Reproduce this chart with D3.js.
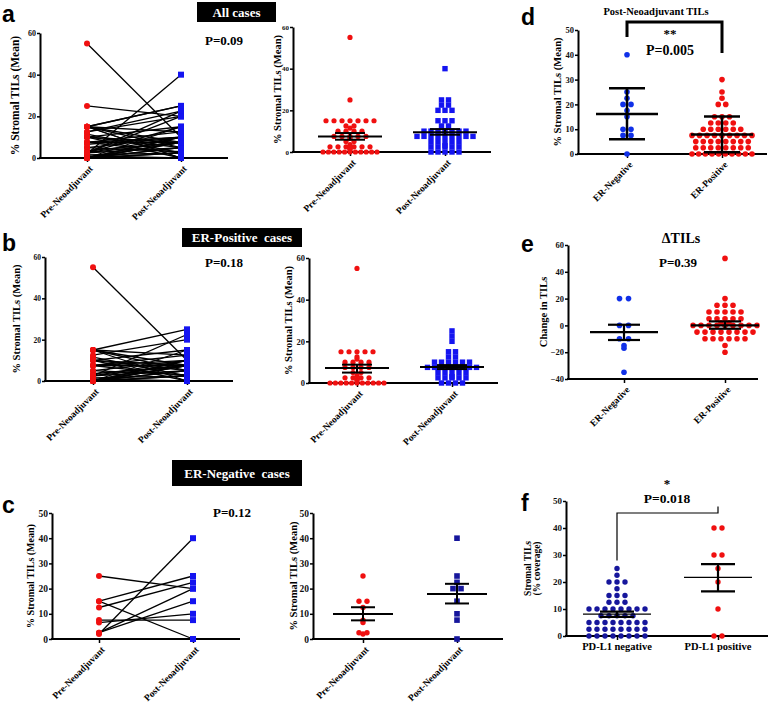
<!DOCTYPE html>
<html>
<head>
<meta charset="utf-8">
<script src="https://d3js.org/d3.v7.min.js"></script>
<style>
  body { margin: 0; background: #fff; }
  svg text { font-family: "Liberation Serif", "Times New Roman", serif; font-weight: bold; }
  .letter { font-family: "Liberation Sans", Arial, sans-serif !important; font-size: 23px; }
</style>
</head>
<body>
<svg width="778" height="703"></svg>
<script>
// ---- categories / tick labels ----
const pairCats = ["Pre-Neoadjuvant", "Post-Neoadjuvant"];
const erCats = ["ER-Negative", "ER-Positive"];
const pdCats = ["PD-L1 negative", "PD-L1 positive"];
const ticks60 = [0, 20, 40, 60];
const ticks50 = [0, 10, 20, 30, 40, 50];
const ticksChange = [-40, -20, 0, 20, 40, 60];

// ---- paired values (same patient order pre/post) ----
const erPosPre  = [55,15,15,15,15,15,12.5,11.5,10,10,10,10,7.5,7.5,7.5,7.5,5,5,3.5,2.5,2.5,2.5,2.5,1.5,1,0,0,0,0,0,0,0,0,0,0,0];
const erPosPost = [10,25,12.5,5,0,7.5,20,2.5,15,7.5,0,5,10,2.5,12.5,7.5,10,3,7.5,5,22.5,7.5,10,2.5,0,15,10,7.5,7.5,5,2.5,2.5,5,10,0,7.5];
const erNegPre  = [25,15,15,12.5,2,2.5,2.5,7.5,6.5];
const erNegPost = [20,0,25,22.5,40,20,15,7.5,10];
const allPre  = erPosPre.concat(erNegPre);
const allPost = erPosPost.concat(erNegPost);

// ---- d: post-neoadjuvant TILs by ER ----
const dNeg = [40,25,22.5,20,20,17.5,15,10,10,7.5,7.5,0];
const dPos = [30,25,22.5,20,20,15,15,15,12.5,12.5,12.5,12.5,10,10,10,10,10,10,
  7.5,7.5,7.5,7.5,7.5,7.5,7.5,7.5,7.5,5,5,5,5,5,5,5,5,2.5,2.5,2.5,2.5,2.5,2.5,2.5,2.5,0,0,0,0,0,0,0,0,0,0];
// ---- e: change in TILs ----
const eNeg = [20,20,0,0,-10,-10,-15,-17,-35];
const ePos = [50,20,15,15,15,10,10,10,10,10,5,5,5,5,5,2,2,0,0,0,0,0,0,0,0,0,
  -5,-5,-5,-5,-5,-5,-5,-5,-10,-10,-10,-10,-10,-10,-15,-20];
// ---- f: PD-L1 ----
const fNeg = [25,22.5,20,20,20,17.5,15,15,15,12.5,12.5,12.5,10,10,10,10,10,10,10,10,
  7.5,7.5,7.5,7.5,7.5,5,5,5,5,5,5,5,5,2.5,2.5,2.5,2.5,2.5,2.5,2.5,2.5,0,0,0,0,0,0,0,0];
const fPos = [40,40,30,30,25,20,10,0,0];

// ---- mean and error bars ----
const aMean = [7.5, 9.5],  aLo = [5.9, 8.3],  aHi = [9.1, 11.0];
const bMean = [7.2, 7.7],  bLo = [5.0, 6.7],  bHi = [8.8, 8.6];
const cMean = [9.9, 17.9], cLo = [7.4, 14.1], cHi = [12.6, 21.9];
const dMean = [16.1, 7.9], dLo = [5.9, 0.7],  dHi = [26.5, 15.1];
const eMean = [-5, 0],     eLo = [-10.9, -2.5], eHi = [0.5, 3];
const fMean = [8.1, 21.7], fLo = [7.1, 16.5], fHi = [9.0, 26.6];

const svg = d3.select("svg");
const RED = "#f01010", BLUE = "#1414f0", NAVY = "#16169c";

function panel(p) {
  const y = d3.scaleLinear().domain(p.domain).range([p.yBot, p.yTop]);
  const x = d3.scalePoint().domain(p.cats).range(p.cx);
  const g = svg.append("g");
  const base = p.yBot;

  const ya = g.append("g").attr("transform", `translate(${p.x0},0)`)
    .call(d3.axisLeft(y).tickValues(p.ticks).tickSize(3).tickSizeOuter(0).tickPadding(1));
  ya.attr("font-family", null).attr("font-size", null);
  ya.select(".domain").attr("stroke-width", 2);
  ya.selectAll(".tick line").attr("stroke-width", 1.5);
  ya.selectAll(".tick text").attr("font-size", p.fs || 8.5).attr("fill", "#111");

  g.append("line").attr("x1", p.x0 - 1).attr("x2", p.x1)
    .attr("y1", base).attr("y2", base).attr("stroke", "#000").attr("stroke-width", 2);
  const xa = g.append("g").attr("transform", `translate(0,${base})`)
    .call(d3.axisBottom(x).tickSize(4).tickFormat(""));
  xa.select(".domain").remove();
  xa.selectAll(".tick line").attr("stroke-width", 1.5);

  if (p.flat) {
    g.selectAll(".xl").data(p.cats).join("text")
      .attr("x", d => x(d)).attr("y", base + 14)
      .attr("text-anchor", "middle").attr("font-size", 10.5).text(d => d);
  } else {
    g.selectAll(".xl").data(p.cats).join("text")
      .attr("transform", d => `translate(${x(d) + 3},${base + 8}) rotate(-45)`)
      .attr("text-anchor", "end").attr("dy", "0.5em").attr("font-size", 9.5).text(d => d);
  }

  const t = g.append("text")
    .attr("transform", `translate(${p.tx},${(p.yTop + p.yBot) / 2}) rotate(-90)`)
    .attr("text-anchor", "middle").attr("font-size", p.tsize || 10.5);
  if (Array.isArray(p.title)) {
    t.selectAll("tspan").data(p.title).join("tspan")
      .attr("x", 0).attr("dy", (d, i) => i ? "0.95em" : "0").text(d => d);
  } else {
    t.attr("dy", "0.35em").text(p.title);
  }
  return { x, y, g };
}

// spread equal values sideways, column-scatter style
function swarm(vals, step, half) {
  const off = new Array(vals.length);
  const groups = d3.group(vals.map((v, i) => ({ v, i })), d => d.v);
  for (const arr of groups.values()) {
    const n = arr.length;
    const s = n > 1 ? Math.min(step, 2 * half / (n - 1)) : 0;
    arr.forEach((d, k) => { off[d.i] = (k - (n - 1) / 2) * s; });
  }
  return off;
}

function dots(P, cat, vals, o) {
  const cx = P.x(cat);
  const off = swarm(vals, o.step, o.half);
  if (o.square) {
    P.g.append("g").selectAll("rect").data(vals).join("rect")
      .attr("x", (d, i) => cx + off[i] - o.r).attr("y", d => P.y(d) - o.r)
      .attr("width", o.r * 2).attr("height", o.r * 2).attr("fill", o.color);
  } else {
    P.g.append("g").selectAll("circle").data(vals).join("circle")
      .attr("cx", (d, i) => cx + off[i]).attr("cy", d => P.y(d))
      .attr("r", o.r).attr("fill", o.color);
  }
}

function bars(P, cats, mean, lo, hi, o) {
  cats.forEach((c, i) => {
    const cx = P.x(c);
    const ln = (x1, y1, x2, y2, w) => P.g.append("line")
      .attr("x1", x1).attr("y1", y1).attr("x2", x2).attr("y2", y2)
      .attr("stroke", "#000").attr("stroke-width", w);
    ln(cx - o.mw, P.y(mean[i]), cx + o.mw, P.y(mean[i]), o.mlw);
    ln(cx, P.y(lo[i]), cx, P.y(hi[i]), o.elw);
    ln(cx - o.cw, P.y(lo[i]), cx + o.cw, P.y(lo[i]), o.elw);
    ln(cx - o.cw, P.y(hi[i]), cx + o.cw, P.y(hi[i]), o.elw);
  });
}

function paired(P, pre, post, r) {
  const x0 = P.x(pairCats[0]), x1 = P.x(pairCats[1]);
  P.g.append("g").selectAll("line").data(pre).join("line")
    .attr("x1", x0).attr("y1", d => P.y(d))
    .attr("x2", x1).attr("y2", (d, i) => P.y(post[i]))
    .attr("stroke", "#000").attr("stroke-width", 1.3);
  P.g.append("g").selectAll("circle").data(pre).join("circle")
    .attr("cx", x0).attr("cy", d => P.y(d)).attr("r", r).attr("fill", RED);
  P.g.append("g").selectAll("rect").data(post).join("rect")
    .attr("x", x1 - r).attr("y", d => P.y(d) - r)
    .attr("width", 2 * r).attr("height", 2 * r).attr("fill", BLUE);
}

function txt(x, y, s, size, extra) {
  const t = svg.append("text").attr("x", x).attr("y", y)
    .attr("font-size", size).text(s);
  if (extra) extra(t);
  return t;
}
function tag(x, y, w, h, s) {
  svg.append("rect").attr("x", x).attr("y", y).attr("width", w).attr("height", h).attr("fill", "#000");
  txt(x + w / 2, y + h / 2, s, 13, t => t.attr("fill", "#fff").attr("text-anchor", "middle")
    .attr("dy", "0.35em").attr("xml:space", "preserve"));
}

const yTitle = "% Stromal TILs (Mean)";

// ---- a ----
const aL = panel({ x0: 40, x1: 228, yTop: 33, yBot: 158, cx: [87, 181], cats: pairCats, domain: [0, 60], ticks: ticks60, tx: 15, title: yTitle, tsize: 11.5, fs: 8 });
paired(aL, allPre, allPost, 3);
const aR = panel({ x0: 293, x1: 491, yTop: 27, yBot: 152, cx: [350, 445], cats: pairCats, domain: [0, 60], ticks: ticks60, tx: 277, title: yTitle, fs: 7 });
dots(aR, pairCats[0], allPre, { step: 8, half: 27, r: 2.6, color: RED });
dots(aR, pairCats[1], allPost, { step: 7, half: 30, r: 2.7, color: BLUE, square: true });
bars(aR, pairCats, aMean, aLo, aHi, { mw: 32, cw: 15, mlw: 2, elw: 2 });

// ---- b ----
const bL = panel({ x0: 45, x1: 233, yTop: 257, yBot: 381, cx: [93, 187], cats: pairCats, domain: [0, 60], ticks: ticks60, tx: 16, title: yTitle, fs: 7.5 });
paired(bL, erPosPre, erPosPost, 3);
const bR = panel({ x0: 309, x1: 498, yTop: 258, yBot: 383, cx: [357, 452], cats: pairCats, domain: [0, 60], ticks: ticks60, tx: 288, title: yTitle, fs: 8.5 });
dots(bR, pairCats[0], erPosPre, { step: 8, half: 27, r: 2.6, color: RED });
dots(bR, pairCats[1], erPosPost, { step: 7, half: 28, r: 2.7, color: BLUE, square: true });
bars(bR, pairCats, bMean, bLo, bHi, { mw: 32, cw: 15, mlw: 2, elw: 2 });

// ---- c ----
const cL = panel({ x0: 52, x1: 240, yTop: 513, yBot: 639, cx: [99, 193], cats: pairCats, domain: [0, 50], ticks: ticks50, tx: 30, title: yTitle, tsize: 10, fs: 9.5 });
paired(cL, erNegPre, erNegPost, 3);
const cR = panel({ x0: 313, x1: 503, yTop: 513, yBot: 639, cx: [363, 457], cats: pairCats, domain: [0, 50], ticks: ticks50, tx: 293, title: yTitle, fs: 9.5 });
dots(cR, pairCats[0], erNegPre, { step: 8, half: 20, r: 2.7, color: RED });
dots(cR, pairCats[1], erNegPost, { step: 8, half: 20, r: 2.8, color: NAVY, square: true });
bars(cR, pairCats, cMean, cLo, cHi, { mw: 30, cw: 12, mlw: 2, elw: 2 });

// ---- d ----
const dP = panel({ x0: 578, x1: 767, yTop: 30, yBot: 154, cx: [627, 722], cats: erCats, domain: [0, 50], ticks: ticks50, tx: 557, title: yTitle, fs: 8.5 });
dots(dP, erCats[0], dNeg, { step: 8, half: 12, r: 2.8, color: "#1030e8" });
dots(dP, erCats[1], dPos, { step: 7.5, half: 30, r: 2.8, color: RED });
bars(dP, erCats, dMean, dLo, dHi, { mw: 31, cw: 18, mlw: 2.5, elw: 2.5 });

// ---- e ----
const eP = panel({ x0: 568, x1: 758, yTop: 245, yBot: 379, cx: [624, 725], cats: erCats, domain: [-40, 60], ticks: ticksChange, tx: 543, title: "Change in TILs", fs: 8.5 });
dots(eP, erCats[0], eNeg, { step: 9, half: 12, r: 2.8, color: "#1030e8" });
dots(eP, erCats[1], ePos, { step: 8, half: 36, r: 2.8, color: RED });
bars(eP, erCats, eMean, eLo, eHi, { mw: 34, cw: 16, mlw: 2.2, elw: 2.2 });

// ---- f ----
const fP = panel({ x0: 566, x1: 768, yTop: 501, yBot: 636, cx: [617, 718], cats: pdCats, domain: [0, 50], ticks: ticks50, tx: 531, title: ["Stromal TILs", "(% coverage)"], tsize: 9.5, flat: true, fs: 9 });
dots(fP, pdCats[0], fNeg, { step: 8, half: 32, r: 2.7, color: NAVY });
dots(fP, pdCats[1], fPos, { step: 8, half: 6, r: 2.7, color: RED });
bars(fP, pdCats, fMean, fLo, fHi, { mw: 34, cw: 17, mlw: 1.3, elw: 2.2 });

// ---- brackets ----
svg.append("path").attr("d", `M${dP.x(erCats[0])},${37}V22H${dP.x(erCats[1])}V53`)
  .attr("fill", "none").attr("stroke", "#000").attr("stroke-width", 3);
svg.append("path").attr("d", `M${fP.x(pdCats[0])},${fP.y(28)}V${513}H${fP.x(pdCats[1])}V${fP.y(48)}`)
  .attr("fill", "none").attr("stroke", "#000").attr("stroke-width", 1.2);

// ---- header tags, p-values, titles ----
tag(197, 2, 79, 20, "All cases");
tag(182, 228, 120, 19, "ER-Positive  cases");
tag(172, 460, 130, 26, "ER-Negative  cases");

const mid = t => t.attr("text-anchor", "middle");
txt(205, 45, "P=0.09", 13);
txt(205, 267, "P=0.18", 13);
txt(213, 517, "P=0.12", 13);
txt(656, 15, "Post-Neoadjuvant TILs", 10.5, mid);
txt(670, 38, "**", 13, mid);
txt(670, 55, "P=0.005", 14, mid);
txt(681, 243, "\u0394TILs", 14, mid);
txt(678, 267, "P=0.39", 13, mid);
txt(667, 488, "*", 13, mid);
txt(667, 503, "P=0.018", 13.5, mid);

// ---- panel letters ----
[["a", 2, 22], ["b", 2, 251], ["c", 2, 513], ["d", 521, 25], ["e", 521, 252], ["f", 521, 511]]
  .forEach(([s, x, y]) => txt(x, y, s, 23, t => t.attr("class", "letter")));
</script>
</body>
</html>
